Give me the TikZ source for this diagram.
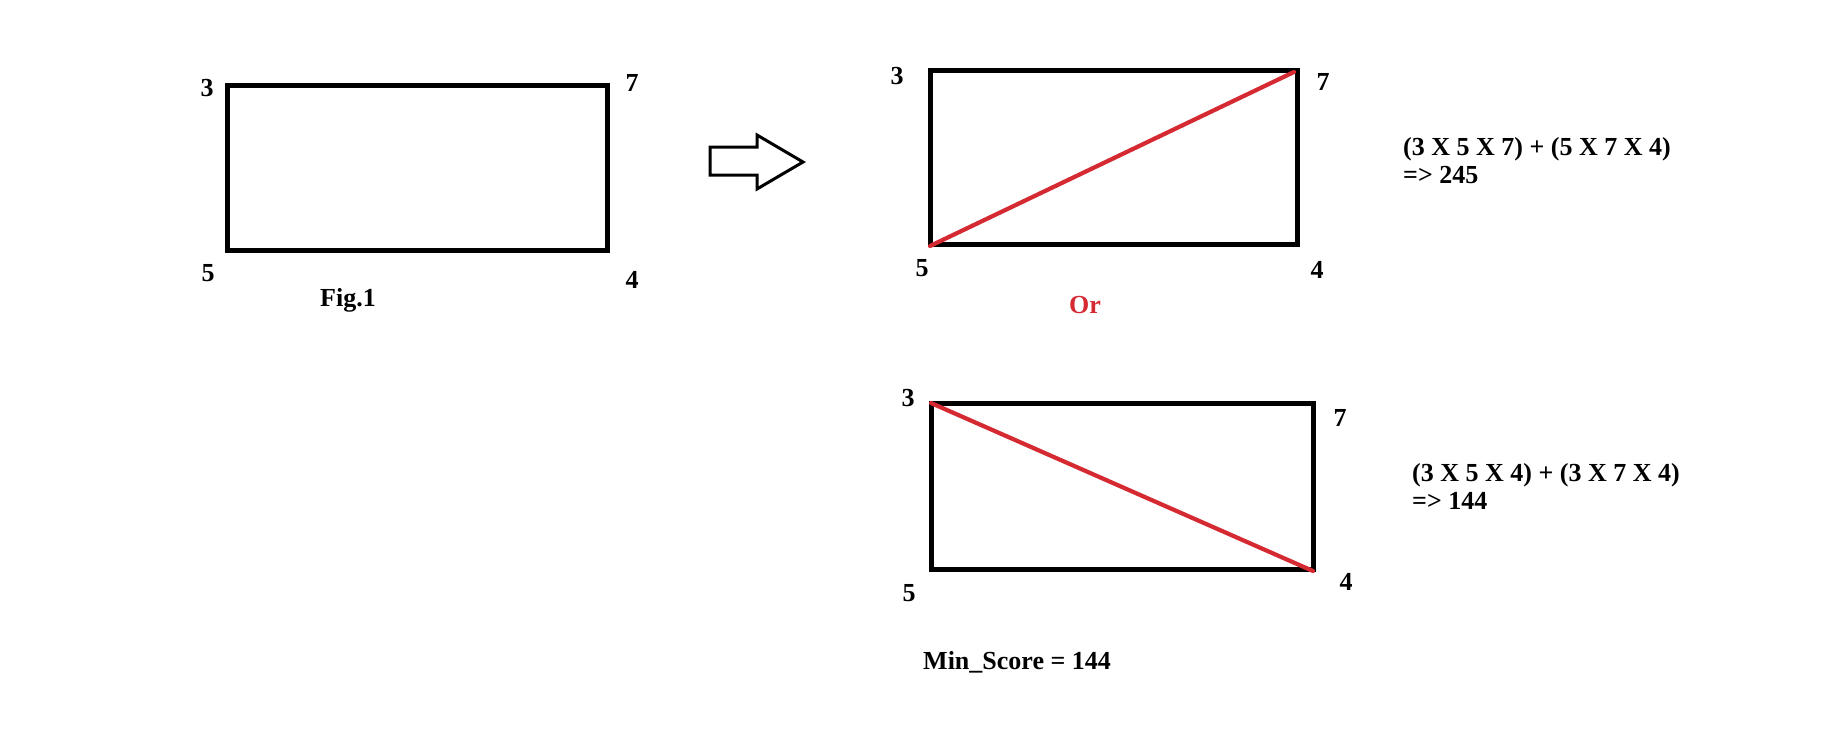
\documentclass[tikz,border=0pt]{standalone}
\usepackage{fontspec}
\setmainfont{Liberation Serif}
\usepackage{tikz}
\usetikzlibrary{calc}
\definecolor{diagred}{RGB}{214,42,50}
\tikzset{
    box/.style={draw=black, line width=5pt, line join=miter},
    diag/.style={draw=diagred, line width=4.2pt, line cap=round},
    corner/.style={font=\fontsize{26}{28}\selectfont\bfseries, inner sep=0pt},
    note/.style={font=\fontsize{26}{28}\selectfont\bfseries, inner sep=0pt, align=left, anchor=west},
}

\begin{document}
\begin{tikzpicture}[x=1pt, y=-1pt]
    \useasboundingbox[fill=white] (0,0) rectangle (1846,742);

    % Fig.1 rectangle
    \coordinate (A3) at (227, 85);   % top left
    \coordinate (A7) at (607, 85);   % top right
    \coordinate (A4) at (607, 250);  % bottom right
    \coordinate (A5) at (227, 250);  % bottom left
    \draw[box] (A3) -- (A7) -- (A4) -- (A5) -- cycle;
    \node[corner] (a3) at (207, 88)  {3};
    \node[corner] (a7) at (632, 83)  {7};
    \node[corner] (a5) at (208, 273) {5};
    \node[corner] (a4) at (632, 280) {4};
    \node[corner] (fig) at (348, 300) {Fig.1};

    % hollow arrow
    \draw[line width=3pt, line join=miter]
        (710,147) -- (757,147) -- (757,135) -- (803,162)
        -- (757,189) -- (757,175) -- (710,175) -- cycle;

    % first choice: diagonal 5--7
    \coordinate (B3) at (930, 70);
    \coordinate (B7) at (1297, 70);
    \coordinate (B4) at (1297, 244);
    \coordinate (B5) at (930, 244);
    \coordinate (B5d) at (930, 246);
    \coordinate (B7d) at (1294, 72);
    \draw[box] (B3) -- (B7) -- (B4) -- (B5) -- cycle;
    \draw[diag] (B5d) -- (B7d);
    \node[corner] (b3) at (897, 76)   {3};
    \node[corner] (b7) at (1323, 82)  {7};
    \node[corner] (b5) at (922, 268)  {5};
    \node[corner] (b4) at (1317, 270) {4};
    \node[corner, text=diagred] (or) at (1085, 305) {Or};
    \node[note] (sumb) at (1403, 161) {(3 X 5 X 7) + (5 X 7 X 4)\\=> 245};

    % second choice: diagonal 3--4
    \coordinate (C3) at (931, 403);
    \coordinate (C7) at (1313, 403);
    \coordinate (C4) at (1313, 569);
    \coordinate (C5) at (931, 569);
    \coordinate (C4d) at (1313, 571);
    \draw[box] (C3) -- (C7) -- (C4) -- (C5) -- cycle;
    \draw[diag] (C3) -- (C4d);
    \node[corner] (c3) at (908, 398)  {3};
    \node[corner] (c7) at (1340, 418) {7};
    \node[corner] (c5) at (909, 593)  {5};
    \node[corner] (c4) at (1346, 582) {4};
    \node[note] (sumc) at (1412, 486) {(3 X 5 X 4) + (3 X 7 X 4)\\=> 144};
    \node[note] (minsc) at (923, 662) {Min\_Score = 144};
\end{tikzpicture}
\end{document}
